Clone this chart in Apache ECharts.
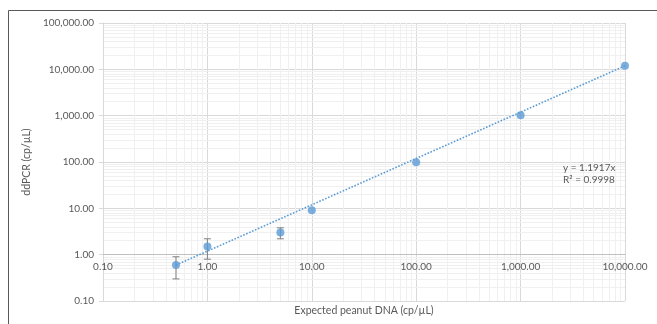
<!DOCTYPE html>
<html><head><meta charset="utf-8">
<script src="https://cdn.jsdelivr.net/npm/echarts@6/dist/echarts.min.js"></script>
<style>html,body{margin:0;padding:0;background:#fff}#c{width:657px;height:324px}</style>
</head><body><div id="c"></div>
<script>
// ---- data ----
const xValues = [0.5, 1, 5, 10, 100, 1000, 10000];
const yValues = [0.6, 1.5, 3.0, 9.1, 99, 1020, 12000];
const yErrors = [0.3, 0.7, 0.8, 0, 0, 0, 0];
const trendSlope = 1.1917;
const rSquared = 0.9998;
const trendRange = [0.5, 10000];
const xDecades = [-1, 0, 1, 2, 3];
const yDecades = [-1, 0, 1, 2, 3, 4];
const minorMultipliers = [2, 3, 4, 5, 6, 7, 8, 9];
const xTitle = 'Expected peanut DNA (cp/µL)';
const yTitle = 'ddPCR (cp/µL)';

const FONT = 'Lato';
const TXT = '#595959';
const fmt = v => Number(v).toLocaleString('en-US', {minimumFractionDigits: 2, maximumFractionDigits: 2});

const points = xValues.map((x, i) => [x, yValues[i]]);
const errData = xValues.map((x, i) => [x, yValues[i] - yErrors[i], yValues[i] + yErrors[i]]).filter((d, i) => yErrors[i] > 0);
const trendData = trendRange.map(x => [x, x * trendSlope]);

const minorX = [];
xDecades.forEach(k => minorMultipliers.forEach(m => minorX.push({xAxis: +(m * Math.pow(10, k)).toPrecision(6)})));
const minorY = [];
yDecades.forEach(k => minorMultipliers.forEach(m => minorY.push({yAxis: +(m * Math.pow(10, k)).toPrecision(6)})));

const chart = echarts.init(document.getElementById('c'), null, {renderer: 'canvas'});
chart.setOption({
  animation: false,
  backgroundColor: '#fff',
  textStyle: {fontFamily: FONT},
  grid: [
    {left: 103, right: 32, top: 23, bottom: 23},
    {left: 103, right: 32, top: 23, bottom: 69.5}
  ],
  xAxis: [
    {
      gridIndex: 0, type: 'log', logBase: 10, min: 0.1, max: 10000, splitNumber: 5,
      axisLine: {show: false}, axisTick: {show: false}, axisLabel: {show: false},
      splitLine: {show: true, lineStyle: {color: '#d9d9d9', width: 1}},
      name: xTitle, nameLocation: 'middle', nameGap: 4,
      nameTextStyle: {color: TXT, fontSize: 10.5, fontFamily: FONT, verticalAlign: 'top'}
    },
    {
      gridIndex: 1, type: 'log', logBase: 10, min: 0.1, max: 10000, splitNumber: 5,
      axisLine: {show: true, lineStyle: {color: '#bfbfbf', width: 1}},
      axisTick: {show: false}, splitLine: {show: false},
      axisLabel: {color: TXT, fontSize: 10, fontFamily: FONT, margin: 7, formatter: fmt, showMinLabel: true, showMaxLabel: true}
    }
  ],
  yAxis: [
    {
      gridIndex: 0, type: 'log', logBase: 10, min: 0.1, max: 100000, splitNumber: 6,
      axisLine: {show: true, lineStyle: {color: '#d9d9d9'}},
      axisTick: {show: true, length: 4, lineStyle: {color: '#d9d9d9'}},
      splitLine: {show: true, lineStyle: {color: '#d9d9d9', width: 1}},
      axisLabel: {color: TXT, fontSize: 10, fontFamily: FONT, margin: 9, formatter: fmt},
      name: yTitle, nameLocation: 'middle', nameGap: 58, nameRotate: 90,
      nameTextStyle: {color: TXT, fontSize: 10.5, fontFamily: FONT}
    },
    {gridIndex: 1, type: 'value', show: false}
  ],
  graphic: [
    {type: 'rect', silent: true, z: 100, shape: {x: 8.5, y: 10.5, width: 700, height: 400},
     style: {fill: 'none', stroke: '#595959', lineWidth: 1}},
    {type: 'text', left: 563, top: 163, z: 100,
     style: {text: 'y = ' + trendSlope + 'x', fill: TXT, font: '10px ' + FONT}},
    {type: 'text', left: 563, top: 175, z: 100,
     style: {text: 'R² = ' + rSquared, fill: TXT, font: '10px ' + FONT}}
  ],
  series: [
    {
      name: 'grid-minor', type: 'line', xAxisIndex: 0, yAxisIndex: 0, z: 0, silent: true,
      data: [[0.1, 0.1]], showSymbol: false, lineStyle: {opacity: 0},
      markLine: {
        silent: true, symbol: 'none', animation: false, z: 0,
        label: {show: false},
        lineStyle: {color: '#f0f0f0', type: 'solid', width: 1},
        emphasis: {disabled: true},
        data: minorX.concat(minorY)
      }
    },
    {
      name: 'trend', type: 'line', xAxisIndex: 0, yAxisIndex: 0, z: 3, silent: true,
      data: trendData, symbol: 'none',
      lineStyle: {color: '#5b9bd5', width: 1.6, type: [1.6, 1.6]}
    },
    {
      name: 'error', type: 'custom', xAxisIndex: 0, yAxisIndex: 0, z: 4, silent: true,
      data: errData,
      renderItem: function (params, api) {
        const lo = api.coord([api.value(0), api.value(1)]);
        const hi = api.coord([api.value(0), api.value(2)]);
        const w = 3.5;
        const st = {stroke: '#7f7f7f', lineWidth: 1};
        return {type: 'group', children: [
          {type: 'line', shape: {x1: lo[0], y1: lo[1], x2: hi[0], y2: hi[1]}, style: st},
          {type: 'line', shape: {x1: lo[0] - w, y1: lo[1], x2: lo[0] + w, y2: lo[1]}, style: st},
          {type: 'line', shape: {x1: hi[0] - w, y1: hi[1], x2: hi[0] + w, y2: hi[1]}, style: st}
        ]};
      }
    },
    {
      name: 'ddPCR', type: 'scatter', xAxisIndex: 0, yAxisIndex: 0, z: 5,
      data: points, symbol: 'circle', symbolSize: 8,
      itemStyle: {color: '#5b9bd5'}
    }
  ]
});
</script></body></html>
